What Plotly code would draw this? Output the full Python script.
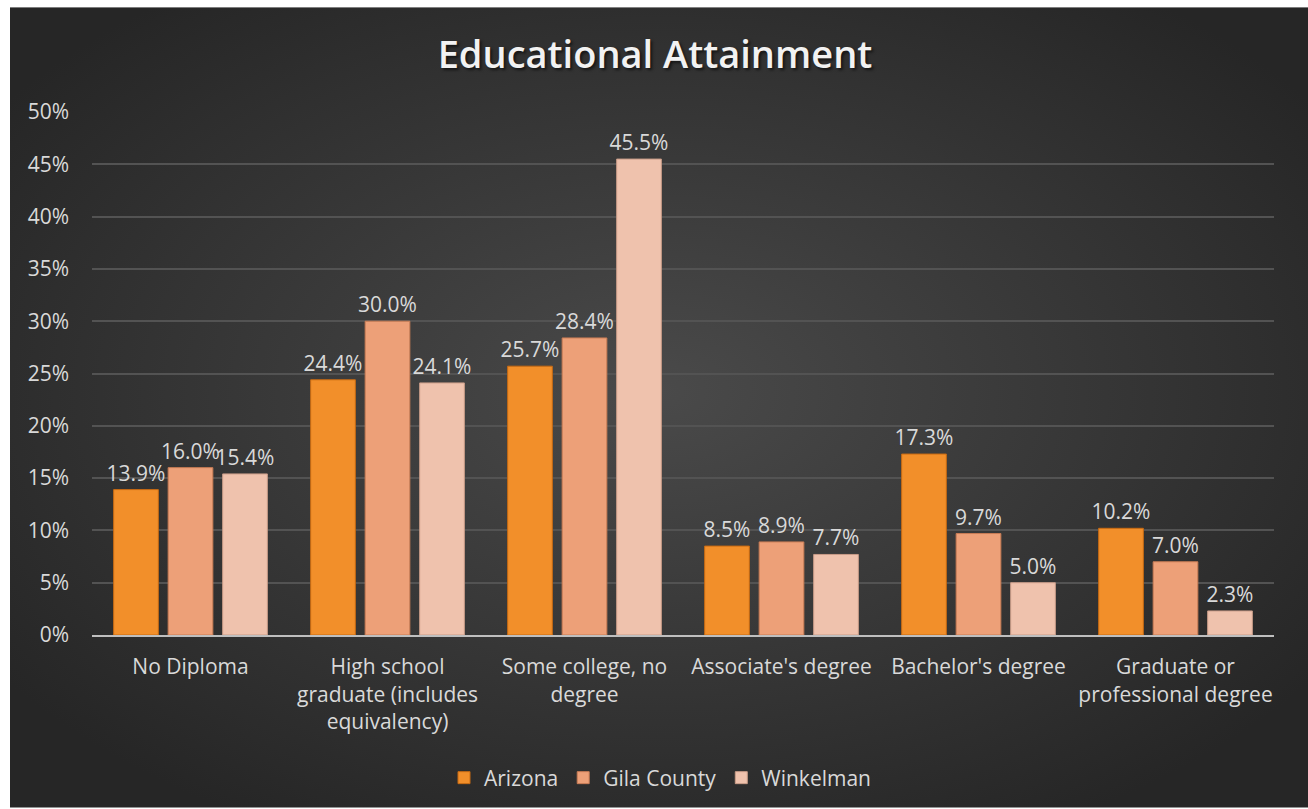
import base64
import plotly.graph_objects as go

categories = ["No Diploma", "High school<br>graduate (includes<br>equivalency)", "Some college, no<br>degree",
              "Associate's degree", "Bachelor's degree", "Graduate or<br>professional degree"]
arizona = [0.139, 0.244, 0.257, 0.085, 0.173, 0.102]
gila = [0.160, 0.300, 0.284, 0.089, 0.097, 0.070]
winkelman = [0.154, 0.241, 0.455, 0.077, 0.050, 0.023]
series_names = ["Arizona", "Gila County", "Winkelman"]
colors = ["#F28F2A", "#EDA078", "#EFC2AD"]
line_colors = ["#C86A12", "#C97C55", "#C99C88"]

W, H = 1308, 809
L, R, T, B = 92, 34, 112, 173
pw, ph = W - L - R, H - T - B
FS = 21

svg = f'''<svg xmlns="http://www.w3.org/2000/svg" width="{W-10}" height="{H-7}" preserveAspectRatio="none" viewBox="0 0 {W-10} {H-7}">
<defs><radialGradient id="g" cx="50%" cy="48%" r="62%">
<stop offset="0%" stop-color="#4a4a4a"/><stop offset="100%" stop-color="#262626"/></radialGradient></defs>
<rect width="100%" height="100%" fill="url(#g)"/></svg>'''
src = "data:image/svg+xml;base64," + base64.b64encode(svg.encode()).decode()

fig = go.Figure()
for name, vals, c, lc in zip(series_names, [arizona, gila, winkelman], colors, line_colors):
    fig.add_trace(go.Bar(
        name=name, x=categories, y=vals,
        marker=dict(color=c, line=dict(color=lc, width=1)),
        text=[f"{v*100:.1f}%" for v in vals], textposition="outside",
        constraintext="none",
        textfont=dict(family="Open Sans", size=FS, color="#D9D9D9"),
        cliponaxis=False,
    ))

fig.add_layout_image(dict(
    source=src, xref="paper", yref="paper",
    x=(10 - L) / pw, y=(H - B - 7) / ph,
    sizex=(W - 10) / pw, sizey=(H - 7) / ph,
    xanchor="left", yanchor="top", sizing="stretch", layer="below",
))

fig.update_layout(
    width=W, height=H,
    margin=dict(l=L, r=R, t=T, b=B, pad=0),
    paper_bgcolor="#FFFFFF", plot_bgcolor="rgba(0,0,0,0)",
    barmode="group", bargap=0.17, bargroupgap=0.18,
    title=dict(text="Educational Attainment", x=655 / W, xref="container", xanchor="center",
               y=1 - 55 / H, yanchor="middle",
               font=dict(family="Open Sans", size=38, weight=600, color="#F2F2F2",
                         shadow="2px 2px 3px rgba(0,0,0,0.6)")),
    font=dict(family="Open Sans", size=FS, color="#D9D9D9"),
    showlegend=True,
    legend=dict(orientation="h", x=(660 - L) / pw, xanchor="center", y=(H - B - 778) / ph, yanchor="middle",
                font=dict(family="Open Sans", size=FS, color="#D9D9D9"),
                bgcolor="rgba(0,0,0,0)", traceorder="normal", itemwidth=30),
    xaxis=dict(showgrid=False, showline=True, linecolor="#BFBFBF", linewidth=2,
               ticks="", tickfont=dict(family="Open Sans", size=FS, color="#D9D9D9"),
               ticklabelstandoff=12),
    yaxis=dict(range=[0, 0.5], dtick=0.05, tickformat=".0%", showgrid=True,
               gridcolor="#535353", gridwidth=2, zeroline=False, showline=False, ticks="",
               tickfont=dict(family="Open Sans", size=FS, color="#D9D9D9"),
               ticklabelstandoff=22),
)

fig.write_html("out.html")
